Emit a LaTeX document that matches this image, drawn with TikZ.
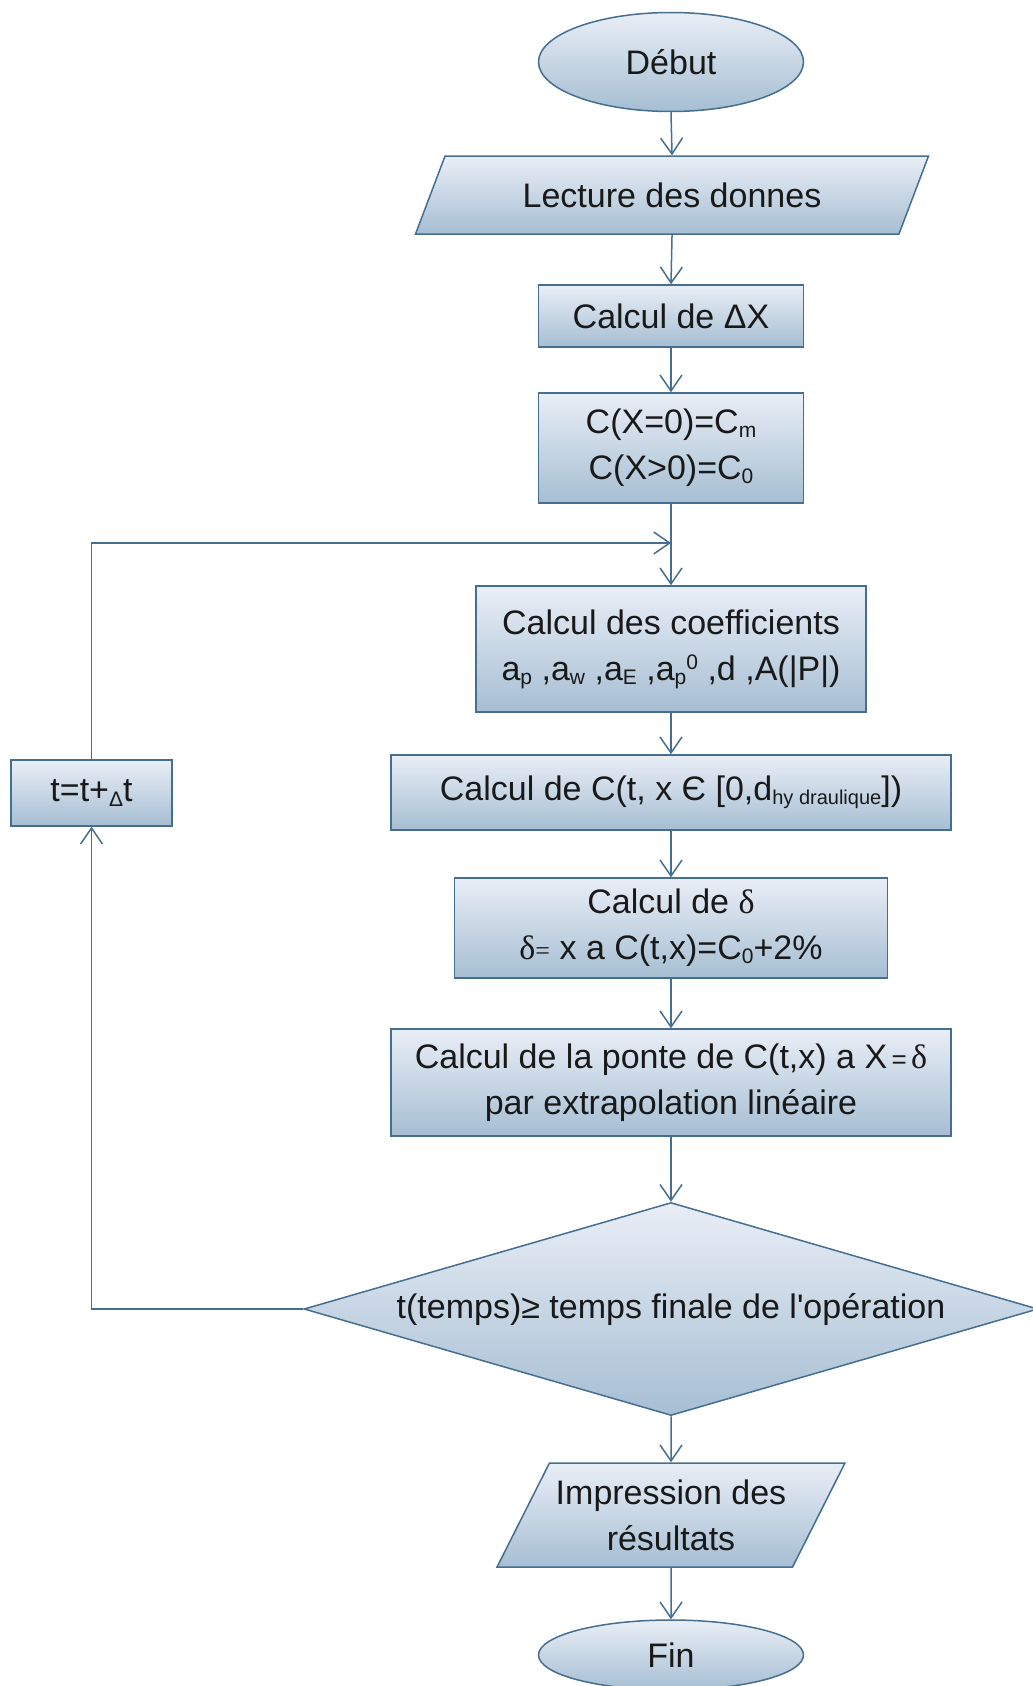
\documentclass[tikz,border=0pt]{standalone}
\usepackage{fontspec}
\setmainfont{Liberation Sans}
\newfontfamily\symf{Liberation Serif}
\newfontfamily\plainap{Liberation Sans}
\usetikzlibrary{shapes.geometric,arrows.meta}
\definecolor{edgec}{RGB}{70,110,145}
\definecolor{topc}{RGB}{233,238,246}
\definecolor{botc}{RGB}{166,190,211}
\definecolor{txtc}{RGB}{25,25,25}
\newcommand{\lsub}[1]{\raisebox{-0.12em}{\fontsize{21}{21}\selectfont #1}}
\newcommand{\tinysub}[1]{\raisebox{-0.12em}{\fontsize{20}{20}\selectfont #1}}
\newcommand{\hsup}[1]{\raisebox{0.32em}{\fontsize{21}{21}\selectfont #1}}
\begin{document}
\begin{tikzpicture}[x=1pt,y=-1pt,
  every node/.style={font=\fontsize{34}{46}\selectfont, text=txtc, align=center},
  blk/.style={draw=edgec, line width=1.5pt, top color=topc, bottom color=botc, inner sep=0pt},
  procbox/.style={blk, rectangle},
  term/.style={blk, ellipse},
  iobox/.style={blk, trapezium, trapezium stretches body=true},
  decis/.style={blk, diamond, shape aspect=3.45},
  arr/.style={draw=edgec, line width=1.5pt, -{Straight Barb[length=16pt,width=22pt]}},
]
\useasboundingbox (0,0) rectangle (1033,1686);

\node[term, minimum width=265pt, minimum height=99pt] (debut) at (671,62) {Début};
\node[iobox, inner ysep=26pt, trapezium left angle=69, trapezium right angle=111,
      minimum width=513pt, minimum height=78pt] (lect) at (672,195) {Lecture des donnes};
\node[procbox, minimum width=265pt, minimum height=62pt] (dx) at (671,316) {Calcul de ΔX};
\node[procbox, minimum width=265pt, minimum height=110pt] (init) at (671,448)
  {C(X=0)=C\lsub{m}\\C(X>0)=C\lsub{0}};
\coordinate (jn) at (671,543);
\node[procbox, minimum width=390pt, minimum height=126pt] (coef) at (671,649)
  {Calcul des coefficients\\a\lsub{p} ,a\lsub{w} ,a\lsub{E} ,a\lsub{p}\hsup{0} ,d ,A(|P|)};
\node[procbox, minimum width=560pt, minimum height=75pt] (calcC) at (671,792.5)
  {Calcul de C(t, x Є [0,d\tinysub{hy draulique}])};
\node[procbox, minimum width=433pt, minimum height=100pt] (delta) at (671,928)
  {Calcul de {\symf δ}\\{\symf δ{\fontsize{26}{26}\selectfont=}} x a C(t,x)=C\lsub{0}+2\%};
\node[procbox, minimum width=560pt, minimum height=107pt] (ponte) at (671,1082.5)
  {Calcul de la ponte de C(t,x) a X{\fontsize{26}{26}\selectfont\,=\,}{\symf δ}\\par extrapolation linéaire};
\node[decis, minimum width=734pt, minimum height=213pt] (dec) at (671,1309)
  {t(temps)≥ temps finale de l{\plainap '}opération};
\node[iobox, inner ysep=16pt, trapezium left angle=63, trapezium right angle=117,
      minimum width=348pt, minimum height=104pt] (impr) at (671,1515)
  {Impression des\\résultats};
\node[term, minimum width=265pt, minimum height=70pt] (fin) at (671,1655) {Fin};
\node[procbox, minimum width=161pt, minimum height=66pt] (tbox) at (91.5,793)
  {t=t+\lsub{Δ}t};

\draw[arr] (debut.south) -- (lect.north);
\draw[arr] (lect.south) -- (dx.north);
\draw[arr] (dx.south) -- (init.north);
\draw[arr] (init.south) -- (coef.north);
\draw[arr] (coef.south) -- (calcC.north);
\draw[arr] (calcC.south) -- (delta.north);
\draw[arr] (delta.south) -- (ponte.north);
\draw[arr] (ponte.south) -- (dec.north);
\draw[arr] (dec.south) -- (impr.north);
\draw[arr] (impr.south) -- (fin.north);
\draw[arr] (dec.west) -| (tbox.south);
\draw[arr] (tbox.north) |- (jn);
\end{tikzpicture}
\end{document}
